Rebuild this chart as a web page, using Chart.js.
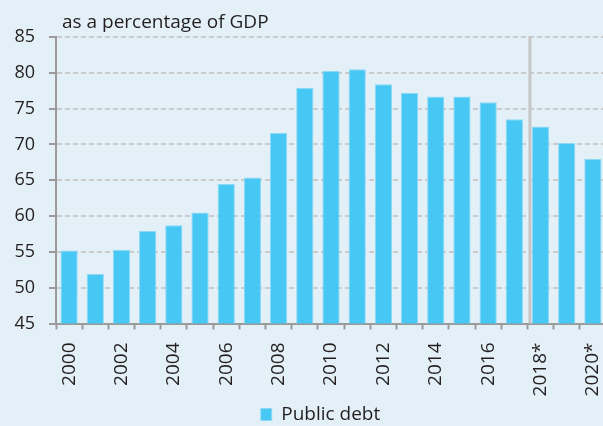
<!DOCTYPE html>
<html lang="en">
<head>
<meta charset="UTF-8">
<title>Public debt</title>
<script src="https://cdn.jsdelivr.net/npm/chart.js"></script>
<style>
    html, body {
        margin: 0;
        padding: 0;
        overflow: hidden;
        background-color: #e4f0f7;
    }
    #wrap {
        width: 629px;
        height: 426px;
    }
</style>
</head>
<body>
<div id="wrap"><canvas id="debtChart" width="629" height="426"></canvas></div>

<script>
    var years = ['2000', '2001', '2002', '2003', '2004', '2005', '2006', '2007', '2008', '2009', '2010',
                 '2011', '2012', '2013', '2014', '2015', '2016', '2017', '2018*', '2019', '2020*'];
    var tickLabels = ['2000', '', '2002', '', '2004', '', '2006', '', '2008', '', '2010',
                      '', '2012', '', '2014', '', '2016', '', '2018*', '', '2020*'];
    var debt = [55.2, 51.9, 55.3, 57.9, 58.7, 60.5, 64.5, 65.4, 71.6, 77.9, 80.3,
                80.5, 78.4, 77.2, 76.7, 76.7, 75.9, 73.5, 72.5, 70.2, 68.0];
    var yTicks = [45, 50, 55, 60, 65, 70, 75, 80, 85];
    var forecastStart = '2018*';   // grey line marks where forecasts begin
    var unitText = 'as a percentage of GDP';

    var fontFamily = '"Open Sans", sans-serif';
    var textColor = '#231f20';

    // small plugin: unit text above the plot and the forecast divider
    var extras = {
        id: 'extras',
        beforeDatasetsDraw: function(chart) {
            var ctx = chart.ctx;
            var area = chart.chartArea;
            var x = chart.scales.x;
            var i = years.indexOf(forecastStart);
            var px = (x.getPixelForValue(i - 1) + x.getPixelForValue(i)) / 2 + 2.5;
            ctx.save();
            ctx.strokeStyle = '#c6c6c6';
            ctx.lineWidth = 3;
            ctx.beginPath();
            ctx.moveTo(px, area.top - 1);
            ctx.lineTo(px, area.bottom);
            ctx.stroke();
            ctx.restore();
        },
        afterDraw: function(chart) {
            var ctx = chart.ctx;
            ctx.save();
            ctx.font = '19px ' + fontFamily;
            ctx.fillStyle = textColor;
            ctx.textBaseline = 'alphabetic';
            ctx.fillText(unitText, chart.chartArea.left + 6, 28);
            ctx.restore();
        }
    };

    var ctx = document.getElementById('debtChart').getContext('2d');
    var debtChart = new Chart(ctx, {
        type: 'bar',
        data: {
            labels: years,
            datasets: [{
                label: 'Public debt',
                data: debt,
                backgroundColor: '#47c8f4',
                borderColor: '#8fd9f6',
                borderWidth: 1,
                categoryPercentage: 1.0,
                barPercentage: 0.66
            }]
        },
        options: {
            responsive: false,
            animation: false,
            layout: {
                padding: { left: 12, right: 0, top: 37, bottom: -8 }
            },
            scales: {
                x: {
                    offset: true,
                    afterFit: function(axis) {
                        // plot runs off the right edge of the window like the original
                        axis.height = 81.5;
                        axis.paddingLeft = 0;
                        axis.paddingRight = 23;
                    },
                    grid: {
                        offset: true,
                        drawOnChartArea: false,
                        drawTicks: true,
                        tickLength: 6,
                        tickColor: '#9a9a9a',
                        tickWidth: 2
                    },
                    border: { color: '#9a9a9a', width: 2 },
                    ticks: {
                        autoSkip: false,
                        minRotation: 90,
                        maxRotation: 90,
                        padding: 13,
                        color: textColor,
                        font: { family: fontFamily, size: 19 },
                        callback: function(value, index) { return tickLabels[index]; }
                    }
                },
                y: {
                    min: 45,
                    max: 85,
                    afterBuildTicks: function(axis) {
                        axis.ticks = yTicks.map(function(v) { return { value: v }; });
                    },
                    afterFit: function(axis) {
                        axis.width = 44;
                    },
                    grid: {
                        color: '#cbcbcb',
                        lineWidth: 2,
                        tickLength: 7,
                        tickColor: '#9a9a9a',
                        tickWidth: 2,
                        tickBorderDash: []
                    },
                    border: { color: '#9a9a9a', width: 2, dash: [5, 3] },
                    ticks: {
                        padding: 14,
                        color: textColor,
                        font: { family: fontFamily, size: 18 }
                    }
                }
            },
            plugins: {
                legend: {
                    position: 'bottom',
                    labels: {
                        boxWidth: 11,
                        boxHeight: 12,
                        padding: 0,
                        color: textColor,
                        font: { family: fontFamily, size: 19 }
                    }
                },
                tooltip: { enabled: false }
            }
        },
        plugins: [extras]
    });
</script>
</body>
</html>
